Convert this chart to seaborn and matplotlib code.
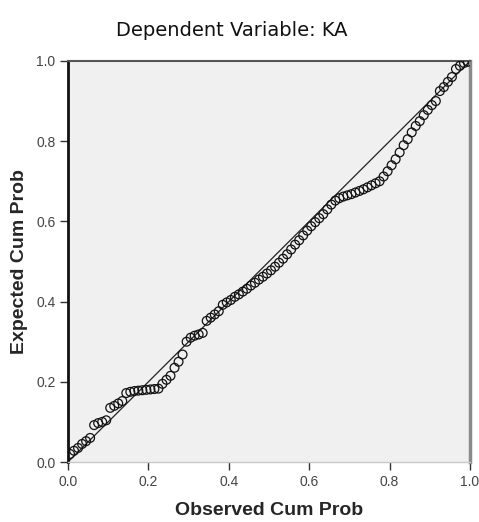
import matplotlib
matplotlib.use("Agg")
import matplotlib.pyplot as plt
import seaborn as sns
import pandas as pd

observed = [0.005, 0.015, 0.025, 0.035, 0.045, 0.055, 0.065, 0.075, 0.085, 0.095,
            0.105, 0.115, 0.125, 0.135, 0.145, 0.155, 0.165, 0.175, 0.185, 0.195,
            0.205, 0.215, 0.225, 0.235, 0.245, 0.255, 0.265, 0.275, 0.285, 0.295,
            0.305, 0.315, 0.325, 0.335, 0.345, 0.355, 0.365, 0.375, 0.385, 0.395,
            0.405, 0.415, 0.425, 0.435, 0.445, 0.455, 0.465, 0.475, 0.485, 0.495,
            0.505, 0.515, 0.525, 0.535, 0.545, 0.555, 0.565, 0.575, 0.585, 0.595,
            0.605, 0.615, 0.625, 0.635, 0.645, 0.655, 0.665, 0.675, 0.685, 0.695,
            0.705, 0.715, 0.725, 0.735, 0.745, 0.755, 0.765, 0.775, 0.785, 0.795,
            0.805, 0.815, 0.825, 0.835, 0.845, 0.855, 0.865, 0.875, 0.885, 0.895,
            0.905, 0.915, 0.925, 0.935, 0.945, 0.955, 0.965, 0.975, 0.985, 0.995]
expected = [0.020, 0.028, 0.035, 0.045, 0.052, 0.060, 0.092, 0.097, 0.100, 0.104,
            0.135, 0.140, 0.146, 0.152, 0.172, 0.175, 0.177, 0.178, 0.179, 0.180,
            0.181, 0.182, 0.183, 0.195, 0.205, 0.215, 0.235, 0.250, 0.268, 0.300,
            0.310, 0.315, 0.318, 0.322, 0.352, 0.360, 0.368, 0.376, 0.392, 0.398,
            0.404, 0.412, 0.418, 0.425, 0.432, 0.440, 0.447, 0.455, 0.462, 0.470,
            0.478, 0.487, 0.497, 0.507, 0.518, 0.530, 0.542, 0.553, 0.565, 0.577,
            0.588, 0.598, 0.608, 0.618, 0.630, 0.642, 0.652, 0.658, 0.662, 0.665,
            0.668, 0.672, 0.676, 0.680, 0.685, 0.690, 0.695, 0.700, 0.712, 0.725,
            0.740, 0.755, 0.772, 0.790, 0.805, 0.822, 0.838, 0.850, 0.865, 0.878,
            0.890, 0.900, 0.925, 0.935, 0.948, 0.960, 0.980, 0.988, 0.995, 0.998]
ref_line = [0.0, 1.0]
tick_values = [0.0, 0.2, 0.4, 0.6, 0.8, 1.0]
tick_labels = ["0.0", "0.2", "0.4", "0.6", "0.8", "1.0"]

sns.set_style("white")
plt.rcParams['font.family'] = ['Liberation Sans', 'DejaVu Sans']

fig = plt.figure(figsize=(4.79, 5.22), dpi=100)
ax = fig.add_axes([68/479, 60/522, (470-68)/479, (462-61)/522])
ax.set_facecolor("#f0f0f0")

df = pd.DataFrame({"obs": observed, "exp": expected})
line_df = pd.DataFrame({"x": ref_line, "y": ref_line})
sns.lineplot(data=line_df, x="x", y="y", color="#222222", linewidth=0.9, ax=ax)
sns.scatterplot(data=df, x="obs", y="exp", marker="o", s=40, facecolor="none",
                edgecolor="#111111", linewidth=0.9, ax=ax, zorder=3)

ax.set_xlim(0, 1)
ax.set_ylim(0, 1)
ax.set_xticks(tick_values)
ax.set_xticklabels(tick_labels)
ax.set_yticks(tick_values)
ax.set_yticklabels(tick_labels)
ax.tick_params(axis="both", direction="out", length=6, width=1, color="#333333",
               labelsize=10, labelcolor="#444444", pad=3, bottom=True, left=True)

for side in ax.spines:
    ax.spines[side].set_visible(True)
ax.spines["left"].set_color("#111111")
ax.spines["left"].set_linewidth(2.0)
ax.spines["top"].set_color("#555555")
ax.spines["top"].set_linewidth(1.5)
ax.spines["right"].set_color("#8a8a8a")
ax.spines["right"].set_linewidth(2.5)
ax.spines["bottom"].set_color("#c8c8c8")
ax.spines["bottom"].set_linewidth(1.0)

ax.set_xlabel("Observed Cum Prob", fontsize=14, fontweight="bold", labelpad=10)
ax.set_ylabel("Expected Cum Prob", fontsize=14, fontweight="bold", labelpad=6)

fig.text(232/479, 1 - 30/522, "Dependent Variable: KA", fontsize=14,
         family=["DejaVu Sans"], ha="center", va="center", color="#111111")

fig.savefig("out.png", dpi=100, facecolor="white")
